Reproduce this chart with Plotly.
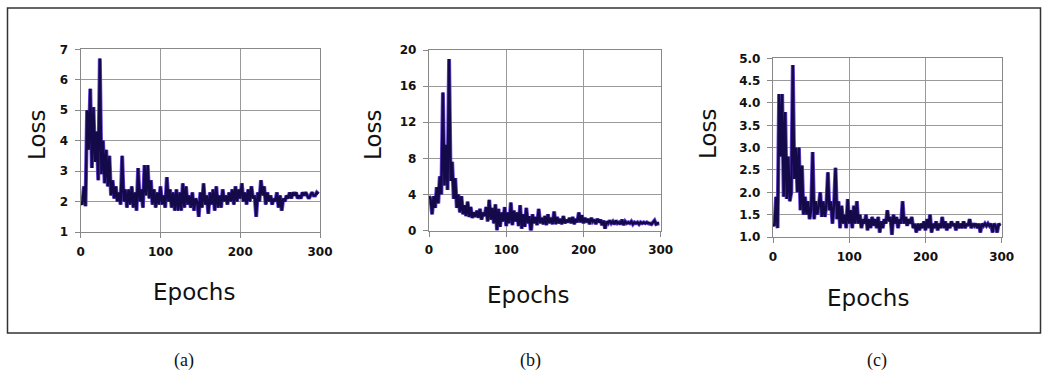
import plotly.graph_objects as go

W, H = 1043, 377

epochs = list(range(0, 300, 2))

loss_a = [2.0, 1.9, 2.5, 1.85, 5.0, 3.7, 5.7, 3.1, 5.1, 3.3,
          4.3, 2.7, 6.7, 2.9, 4.0, 2.6, 3.7, 2.5, 3.5, 2.2,
          2.7, 2.1, 2.5, 2.0, 2.3, 1.9, 3.5, 2.0, 2.4, 1.8,
          2.4, 1.9, 2.5, 1.8, 2.3, 1.7, 3.1, 2.0, 2.4, 1.8,
          3.2, 2.2, 3.2, 2.1, 2.7, 1.9, 2.4, 1.8, 2.3, 1.9,
          2.5, 1.9, 2.2, 1.8, 2.8, 2.0, 2.4, 1.8, 2.3, 1.7,
          2.4, 1.7, 2.3, 1.7, 2.6, 1.8, 2.5, 1.9, 2.2, 1.8,
          2.3, 1.7, 2.1, 2.0, 1.5, 2.3, 1.8, 2.6, 1.9, 2.2,
          1.6, 2.3, 1.9, 2.4, 1.7, 2.5, 1.8, 2.2, 1.8, 2.4,
          2.0, 2.2, 1.9, 2.3, 2.0, 2.4, 1.9, 2.5, 2.0, 2.4,
          2.1, 2.6, 2.0, 2.3, 1.9, 2.4, 2.0, 2.5, 2.1, 2.2,
          1.5, 2.3, 2.0, 2.7, 2.2, 2.5, 1.9, 2.3, 2.0, 2.2,
          1.9, 2.1, 2.0, 2.3, 1.8, 2.2, 1.7, 2.1, 2.0, 2.2,
          2.1, 2.3, 2.1, 2.3, 2.2, 2.3, 2.1, 2.2, 2.1, 2.3,
          2.2, 2.3, 2.2, 2.1, 2.2, 2.3, 2.2, 2.2, 2.3, 2.25]

loss_b = [3.8, 3.5, 1.8, 3.8, 2.5, 4.8, 3.0, 6.0, 4.0, 15.3,
          5.0, 9.5, 4.5, 19.0, 5.5, 7.6, 3.5, 5.8, 2.5, 4.0,
          2.0, 3.8, 1.8, 2.8, 1.6, 3.2, 1.5, 2.6, 1.4, 2.0,
          1.5, 2.2, 1.4, 2.4, 1.2, 2.0, 1.6, 2.6, 1.0, 3.4,
          1.2, 2.5, 0.8, 2.9, 0.0, 2.4, 0.4, 2.0, 1.0, 2.6,
          0.5, 2.0, 0.8, 3.1, 0.6, 2.2, 1.0, 2.0, 0.5, 2.8,
          0.2, 1.8, 0.4, 2.5, 0.8, 1.6, -0.3, 1.8, 0.8, 1.5,
          0.6, 2.4, 0.8, 1.4, 0.7, 1.6, 0.6, 1.8, 0.8, 1.4,
          0.7, 2.1, 0.7, 1.5, 0.8, 1.3, 0.7, 1.6, 0.8, 1.2,
          0.9, 1.4, 0.8, 1.5, 0.7, 1.3, 0.9, 2.0, 0.9, 1.7,
          0.8, 1.4, 0.9, 1.3, 0.7, 1.4, 1.0, 1.2, 0.7, 1.3,
          0.9, 1.2, 0.6, 1.1, 0.2, 1.0, 0.8, 1.1, 0.8, 1.0,
          0.7, 1.1, 0.8, 0.9, 0.7, 1.2, 0.6, 1.0, 0.8, 0.9,
          0.8, 1.0, 0.7, 0.9, 0.8, 0.9, 0.7, 0.9, 0.8, 0.9,
          0.8, 0.9, 0.8, 0.8, 0.7, 0.9, 1.1, 0.7, 0.8, 0.8]

loss_c = [1.3, 1.25, 1.9, 1.2, 4.2, 2.8, 4.2, 1.9, 3.8, 1.85,
          2.8, 1.8, 2.0, 4.85, 2.3, 3.0, 2.0, 3.0, 1.6, 2.6,
          1.5, 1.9, 1.5, 1.8, 1.4, 1.6, 2.9, 1.4, 1.8, 1.5,
          1.7, 2.0, 1.45, 1.8, 1.45, 1.7, 2.45, 1.6, 1.8, 1.3,
          1.7, 2.55, 1.4, 1.8, 1.2, 1.7, 1.3, 1.5, 1.2, 1.85,
          1.3, 1.6, 1.2, 1.7, 1.3, 1.8, 1.3, 1.5, 1.2, 1.4,
          1.3, 1.5, 1.15, 1.4, 1.2, 1.45, 1.25, 1.4, 1.2, 1.45,
          1.1, 1.35, 1.2, 1.4, 1.3, 1.6, 1.35, 1.45, 1.05, 1.5,
          1.3, 1.45, 1.2, 1.4, 1.3, 1.8, 1.3, 1.45, 1.25, 1.4,
          1.3, 1.45, 1.2, 1.3, 1.1, 1.3, 1.15, 1.3, 1.2, 1.35,
          1.15, 1.4, 1.2, 1.5, 1.1, 1.3, 1.2, 1.35, 1.15, 1.3,
          1.2, 1.45, 1.2, 1.35, 1.15, 1.3, 1.2, 1.35, 1.25, 1.3,
          1.15, 1.35, 1.2, 1.3, 1.2, 1.35, 1.2, 1.3, 1.25, 1.4,
          1.2, 1.3, 1.25, 1.3, 1.2, 1.3, 1.1, 1.3, 1.25, 1.3,
          1.25, 1.3, 1.25, 1.3, 1.1, 1.3, 1.25, 1.1, 1.3, 1.25]

y_ranges = [[1, 7], [0, 20], [1, 5]]
y_dticks = [1, 4, 0.5]
x_ticks = [0, 100, 200, 300]
captions = ["(a)", "(b)", "(c)"]
axis_x_title = "Epochs"
axis_y_title = "Loss"

# panel boxes in pixels: (left, right, top, bottom)
boxes = [(80.7, 320.0, 49.3, 232.0),
         (429.0, 660.7, 50.0, 230.5),
         (773.0, 1001.7, 58.3, 237.0)]
ylabel_pos = [(37, 135), (373, 135), (708, 134)]
xlabel_pos = [(194, 292), (528, 295), (868, 298)]
caption_pos = [(184, 360), (530, 360), (877, 360)]

series = [loss_a, loss_b, loss_c]

fig = go.Figure()
layout = dict(template="none", width=W, height=H, margin=dict(l=0, r=0, t=0, b=0, pad=0),
              paper_bgcolor="white", plot_bgcolor="white", showlegend=False)

annotations = []
for i, (ys, box) in enumerate(zip(series, boxes)):
    sfx = "" if i == 0 else str(i + 1)
    xa, ya = "x" + sfx, "y" + sfx
    fig.add_trace(go.Scatter(x=epochs, y=ys, xaxis=xa, yaxis=ya, mode="lines",
                             line=dict(color="#6a45d8", width=4.0), hoverinfo="skip"))
    fig.add_trace(go.Scatter(x=epochs, y=ys, xaxis=xa, yaxis=ya, mode="lines",
                             line=dict(color="#140a4a", width=2.4)))
    l, r, t, b = box
    common = dict(showgrid=True, gridcolor="#9a9a9a", gridwidth=1.2,
                  showline=True, linecolor="#888888", linewidth=1.3, mirror=True,
                  ticks="outside", ticklen=5, tickcolor="#888888", tickwidth=1.3,
                  zeroline=False, automargin=False,
                  tickfont=dict(family="DejaVu Sans", size=12, color="#111111", weight="bold"))
    layout["xaxis" + sfx] = dict(domain=[l / W, r / W], anchor=ya, range=[0, 300],
                                 tickvals=x_ticks, ticklabelstandoff=3, **common)
    layout["yaxis" + sfx] = dict(domain=[1 - b / H, 1 - t / H], anchor=xa,
                                 range=y_ranges[i], dtick=y_dticks[i],
                                 tickformat=".1f" if i == 2 else "d",
                                 ticklabelstandoff=4, **common)
    annotations.append(dict(text=axis_y_title, x=ylabel_pos[i][0] / W, y=1 - ylabel_pos[i][1] / H,
                            xref="paper", yref="paper", xanchor="center", yanchor="middle",
                            showarrow=False, textangle=-90,
                            font=dict(family="DejaVu Sans", size=23, color="#111111")))
    annotations.append(dict(text=axis_x_title, x=xlabel_pos[i][0] / W, y=1 - xlabel_pos[i][1] / H,
                            xref="paper", yref="paper", xanchor="center", yanchor="middle",
                            showarrow=False,
                            font=dict(family="DejaVu Sans", size=23, color="#111111")))
    annotations.append(dict(text=captions[i], x=caption_pos[i][0] / W, y=1 - caption_pos[i][1] / H,
                            xref="paper", yref="paper", xanchor="center", yanchor="middle",
                            showarrow=False,
                            font=dict(family="Liberation Serif", size=18, color="#111111")))

layout["annotations"] = annotations
layout["shapes"] = [dict(type="rect", xref="paper", yref="paper",
                         x0=7.5 / W, x1=1040.5 / W, y0=1 - 333 / H, y1=1 - 8 / H,
                         line=dict(color="#333333", width=1.5))]
fig.update_layout(**layout)
fig.write_html("out.html")
